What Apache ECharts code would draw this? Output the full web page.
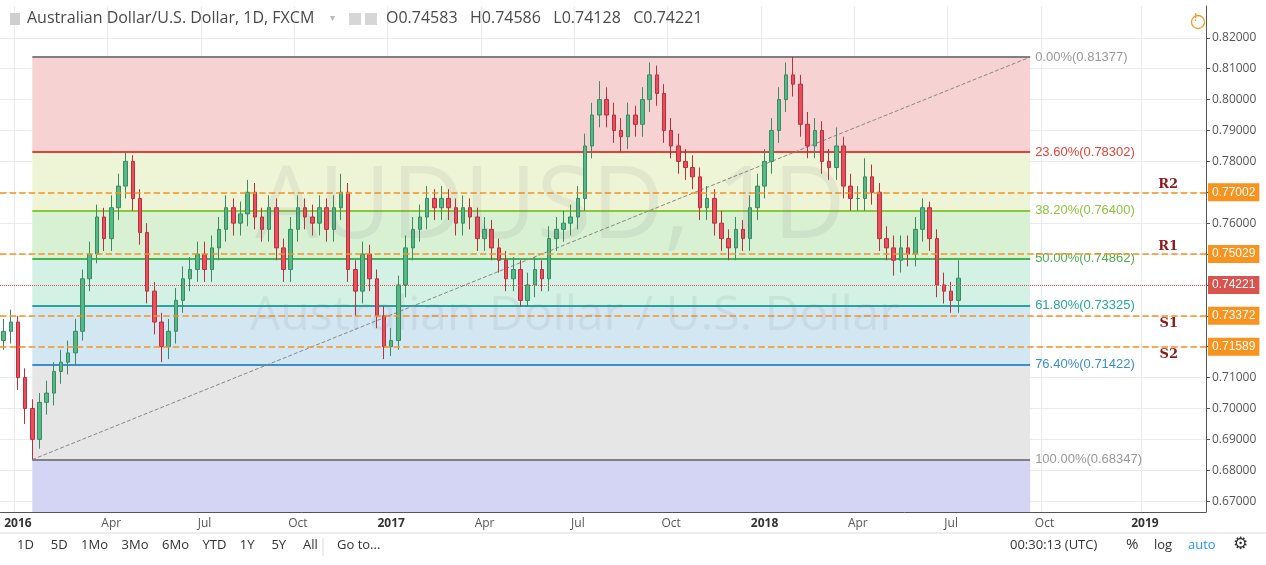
<!DOCTYPE html>
<html>
<head>
<meta charset="utf-8">
<script src="https://cdn.jsdelivr.net/npm/echarts@6/dist/echarts.min.js"></script>
<style>
  html, body { margin: 0; padding: 0; background: #fff; }
  #main { width: 1266px; height: 565px; }
</style>
</head>
<body>
<div id="main"></div>
<script>
// weekly candles [open, close, low, high], first week starts 2015-12-21
var candles = [
  [0.722,0.725,0.719,0.729],[0.725,0.728,0.721,0.732],[0.728,0.710,0.706,0.730],[0.710,0.700,0.695,0.713],
  [0.700,0.690,0.6835,0.703],[0.690,0.702,0.687,0.705],[0.702,0.705,0.698,0.709],[0.705,0.712,0.701,0.715],
  [0.712,0.715,0.708,0.719],[0.715,0.718,0.711,0.722],[0.718,0.725,0.714,0.729],[0.725,0.742,0.722,0.745],
  [0.742,0.750,0.738,0.754],[0.750,0.762,0.747,0.766],[0.762,0.755,0.751,0.765],[0.755,0.765,0.751,0.769],
  [0.765,0.772,0.761,0.776],[0.772,0.780,0.768,0.783],[0.780,0.768,0.764,0.782],[0.768,0.757,0.753,0.771],
  [0.757,0.738,0.734,0.760],[0.738,0.728,0.724,0.741],[0.728,0.720,0.715,0.731],[0.720,0.725,0.716,0.729],
  [0.725,0.735,0.721,0.739],[0.735,0.742,0.731,0.746],[0.742,0.745,0.738,0.749],[0.745,0.750,0.741,0.754],
  [0.750,0.745,0.741,0.754],[0.745,0.752,0.741,0.756],[0.752,0.758,0.748,0.762],[0.758,0.765,0.754,0.769],
  [0.765,0.760,0.756,0.768],[0.760,0.763,0.756,0.767],[0.763,0.770,0.759,0.774],[0.770,0.762,0.758,0.773],
  [0.762,0.758,0.754,0.765],[0.758,0.765,0.754,0.769],[0.765,0.752,0.748,0.768],[0.752,0.745,0.741,0.755],
  [0.745,0.758,0.741,0.762],[0.758,0.765,0.754,0.769],[0.765,0.762,0.758,0.768],[0.762,0.760,0.756,0.766],
  [0.760,0.765,0.756,0.769],[0.765,0.758,0.754,0.768],[0.758,0.765,0.754,0.769],[0.765,0.770,0.761,0.776],
  [0.770,0.745,0.741,0.773],[0.745,0.738,0.730,0.748],[0.738,0.750,0.734,0.754],[0.750,0.742,0.738,0.753],
  [0.742,0.730,0.726,0.745],[0.730,0.720,0.716,0.733],[0.720,0.722,0.717,0.726],[0.722,0.740,0.719,0.743],
  [0.740,0.752,0.736,0.756],[0.752,0.758,0.748,0.762],[0.758,0.762,0.754,0.766],[0.762,0.768,0.758,0.772],
  [0.768,0.765,0.761,0.771],[0.765,0.768,0.761,0.772],[0.768,0.765,0.761,0.771],[0.765,0.760,0.756,0.768],
  [0.760,0.765,0.756,0.769],[0.765,0.762,0.758,0.768],[0.762,0.755,0.751,0.765],[0.755,0.758,0.751,0.762],
  [0.758,0.752,0.748,0.761],[0.752,0.748,0.744,0.755],[0.748,0.742,0.738,0.751],[0.742,0.745,0.738,0.749],
  [0.745,0.735,0.733,0.748],[0.735,0.740,0.733,0.744],[0.740,0.745,0.736,0.749],[0.745,0.742,0.738,0.748],
  [0.742,0.755,0.738,0.759],[0.755,0.758,0.751,0.762],[0.758,0.760,0.754,0.764],[0.760,0.762,0.756,0.766],
  [0.762,0.768,0.758,0.772],[0.768,0.785,0.764,0.789],[0.785,0.795,0.781,0.799],[0.795,0.800,0.791,0.806],
  [0.800,0.795,0.791,0.804],[0.795,0.790,0.786,0.799],[0.790,0.788,0.783,0.794],[0.788,0.795,0.784,0.799],
  [0.795,0.792,0.788,0.798],[0.792,0.800,0.788,0.804],[0.800,0.808,0.796,0.812],[0.808,0.802,0.798,0.811],
  [0.802,0.790,0.786,0.805],[0.790,0.785,0.781,0.794],[0.785,0.780,0.776,0.789],[0.780,0.778,0.774,0.784],
  [0.778,0.775,0.771,0.782],[0.775,0.765,0.761,0.778],[0.765,0.768,0.761,0.772],[0.768,0.760,0.756,0.771],
  [0.760,0.755,0.751,0.764],[0.755,0.752,0.748,0.758],[0.752,0.758,0.748,0.762],[0.758,0.755,0.751,0.761],
  [0.755,0.765,0.751,0.769],[0.765,0.772,0.761,0.776],[0.772,0.780,0.768,0.784],[0.780,0.790,0.776,0.794],
  [0.790,0.800,0.786,0.804],[0.800,0.808,0.796,0.812],[0.808,0.805,0.801,0.8138],[0.805,0.792,0.788,0.808],
  [0.792,0.785,0.781,0.796],[0.785,0.790,0.781,0.794],[0.790,0.780,0.776,0.793],[0.780,0.778,0.774,0.784],
  [0.778,0.785,0.774,0.791],[0.785,0.772,0.768,0.788],[0.772,0.768,0.764,0.776],[0.768,0.768,0.764,0.772],
  [0.768,0.775,0.764,0.781],[0.775,0.770,0.766,0.779],[0.770,0.755,0.751,0.773],[0.755,0.752,0.748,0.759],
  [0.752,0.748,0.743,0.756],[0.748,0.752,0.744,0.756],[0.752,0.750,0.746,0.756],[0.750,0.758,0.746,0.762],
  [0.758,0.765,0.754,0.768],[0.765,0.755,0.751,0.767],[0.755,0.740,0.736,0.758],[0.740,0.738,0.734,0.744],
  [0.738,0.735,0.731,0.741],[0.735,0.7422,0.731,0.748]
];
var weekCount = 168;
var fibLevels = [0.81377, 0.78302, 0.76400, 0.74862, 0.73325, 0.71422, 0.68347];
var fibNames = ['0.00%', '23.60%', '38.20%', '50.00%', '61.80%', '76.40%', '100.00%'];
var fibLineColors = ['#808080', '#e0443a', '#8cc63f', '#4caf50', '#26a69a', '#3a8fcc', '#808080'];
var fibFills = ['#f6d2d2', '#eef5d6', '#d8f1d2', '#d3f1e5', '#d3e7f3', '#e6e6e6', '#d4d4f5'];
var pivotNames = ['R2', 'R1', 'S1', 'S2'];
var pivotValues = [0.77002, 0.75029, 0.73372, 0.71589];
var lastPrice = 0.74221;
var yTicks = [0.67, 0.68, 0.69, 0.70, 0.71, 0.72, 0.73, 0.74, 0.75, 0.76, 0.77, 0.78, 0.79, 0.80, 0.81, 0.82];
var fibStart = 4, fibEnd = 143;
var monthNames = ['Jan','Feb','Mar','Apr','May','Jun','Jul','Aug','Sep','Oct','Nov','Dec'];

var weeks = [];
var start = Date.UTC(2015, 11, 21);
for (var i = 0; i < weekCount; i++) {
  weeks.push(new Date(start + i * 7 * 86400000).toISOString().slice(0, 10));
}
function isQuarter(idx) {
  if (idx === 0) return false;
  var m = +weeks[idx].slice(5, 7) - 1, pm = +weeks[idx - 1].slice(5, 7) - 1;
  return m !== pm && m % 3 === 0;
}

var fibAreas = [];
for (var k = 0; k < fibLevels.length; k++) {
  var lo = k < fibLevels.length - 1 ? fibLevels[k + 1] : 0.6665;
  fibAreas.push([{ xAxis: weeks[fibStart], yAxis: fibLevels[k], itemStyle: { color: fibFills[k] } },
                 { xAxis: weeks[fibEnd], yAxis: lo }]);
}
var fibLines = fibLevels.map(function (v, k) {
  return [{ xAxis: weeks[fibStart], yAxis: v, lineStyle: { color: fibLineColors[k], width: 2, type: 'solid' },
            label: { show: true, position: 'end', formatter: fibNames[k] + '(' + v.toFixed(5) + ')',
                     color: fibLineColors[k] === '#808080' ? '#999' : fibLineColors[k], fontSize: 13 } },
          { xAxis: weeks[fibEnd], yAxis: v }];
});
var gridLines = yTicks.map(function (v) { return { yAxis: v }; });
var pivotLines = [];
pivotValues.forEach(function (v, k) {
  pivotLines.push({ yAxis: v, label: { show: true, position: 'end', formatter: v.toFixed(5), color: '#fff',
    backgroundColor: '#f7931e', padding: [3, 4], fontSize: 12, distance: 2 } });
  pivotLines.push({ yAxis: v, lineStyle: { color: 'rgba(0,0,0,0)', width: 1 }, label: { show: true,
    position: k < 2 ? 'insideEndTop' : 'insideEndBottom', formatter: pivotNames[k], color: '#8b1a1a',
    fontWeight: 'bold', fontFamily: 'DejaVu Serif', fontSize: 13, distance: [28, 1] } });
});

var chart = echarts.init(document.getElementById('main'));
chart.setOption({
  animation: false,
  backgroundColor: '#fff',
  grid: { left: 0, right: 60, top: 6, bottom: 53 },
  xAxis: {
    type: 'category', data: weeks, boundaryGap: true,
    axisLine: { lineStyle: { color: '#555' } },
    axisTick: { show: false },
    splitLine: { show: true, interval: function (i) { return isQuarter(i); }, lineStyle: { color: '#e9ebf0' } },
    axisLabel: {
      interval: function (i) { return isQuarter(i); },
      formatter: function (v) {
        var m = +v.slice(5, 7) - 1;
        return m === 0 ? '{y|' + v.slice(0, 4) + '}' : monthNames[m];
      },
      color: '#555', fontSize: 12, fontFamily: 'Open Sans', margin: 6,
      rich: { y: { fontWeight: 'bold', color: '#333', fontSize: 12, fontFamily: 'Open Sans' } }
    }
  },
  yAxis: {
    type: 'value', position: 'right', min: 0.6665, max: 0.8303, scale: true,
    axisLine: { show: true, lineStyle: { color: '#555' } },
    axisTick: { show: true, customValues: yTicks, length: 4, lineStyle: { color: '#555' } },
    splitLine: { show: false },
    axisLabel: { customValues: yTicks, formatter: function (v) { return v.toFixed(5); },
                 color: '#555', fontSize: 12, fontFamily: 'Open Sans', margin: 6 }
  },
  graphic: [
    { type: 'text', left: 255, top: 160, z: 50, silent: true, style: { text: 'AUDUSD, 1D', font: '100px "Open Sans"', fill: 'rgba(110,110,130,0.10)' } },
    { type: 'text', left: 250, top: 292, z: 50, silent: true, style: { text: 'Australian Dollar / U.S. Dollar', font: '48px "Open Sans"', fill: 'rgba(110,110,130,0.10)' } },
    { type: 'rect', left: 10, top: 13, z: 100, shape: { width: 10, height: 12 }, style: { fill: '#cfcfcf' } },
    { type: 'text', left: 27, top: 10, z: 100, style: { text: 'Australian Dollar/U.S. Dollar, 1D, FXCM', font: '16px "Open Sans"', fill: '#4a4a4a' } },
    { type: 'text', left: 330, top: 13, z: 100, style: { text: '▾', font: '10px sans-serif', fill: '#bbb' } },
    { type: 'rect', left: 349, top: 13, z: 100, shape: { width: 12, height: 12 }, style: { fill: '#d6d6d6' } },
    { type: 'rect', left: 365, top: 13, z: 100, shape: { width: 12, height: 12 }, style: { fill: '#d6d6d6' } },
    { type: 'text', left: 386, top: 10, z: 100, style: { text: 'O0.74583   H0.74586   L0.74128   C0.74221', font: '16px "Open Sans"', fill: '#4a4a4a' } },
    { type: 'circle', left: 1189, top: 13, z: 100, shape: { r: 6.5 }, style: { fill: 'none', stroke: '#f59a23', lineWidth: 1.3 } },
    { type: 'text', left: 1194, top: 13, z: 100, style: { text: '!', font: 'bold 10px sans-serif', fill: '#f59a23' } },
    { type: 'line', z: 100, shape: { x1: 0, y1: 533, x2: 1266, y2: 533 }, style: { stroke: '#dcdcdc' } },
    { type: 'text', left: 17, top: 539, z: 100, style: { text: '1D     5D    1Mo    3Mo    6Mo    YTD    1Y     5Y     All', font: '13px "Open Sans"', fill: '#333' } },
    { type: 'line', z: 100, shape: { x1: 323, y1: 538, x2: 323, y2: 556 }, style: { stroke: '#dcdcdc' } },
    { type: 'text', left: 337, top: 539, z: 100, style: { text: 'Go to...', font: '13px "Open Sans"', fill: '#333' } },
    { type: 'text', left: 1010, top: 539, z: 100, style: { text: '00:30:13 (UTC)', font: '13px "Open Sans"', fill: '#333' } },
    { type: 'text', left: 1126, top: 537, z: 100, style: { text: '%', font: '15px "Open Sans"', fill: '#333' } },
    { type: 'text', left: 1154, top: 539, z: 100, style: { text: 'log', font: '13px "Open Sans"', fill: '#333' } },
    { type: 'text', left: 1188, top: 539, z: 100, style: { text: 'auto', font: '13px "Open Sans"', fill: '#2196f3' } },
    { type: 'text', left: 1233, top: 536, z: 100, style: { text: '⚙', font: '17px "DejaVu Sans"', fill: '#333' } }
  ],
  series: [
    {
      type: 'candlestick', name: 'AUDUSD', data: candles, barWidth: 4, z: 5,
      itemStyle: { color: '#53b987', color0: '#eb4d5c', borderColor: '#3a8a62', borderColor0: '#b8303d', borderWidth: 1 },
      markArea: { silent: true, z: 1, data: fibAreas },
      markLine: {
        silent: true, symbol: 'none', z: 3,
        data: fibLines.concat([[
          { xAxis: weeks[fibStart], yAxis: fibLevels[6], lineStyle: { color: '#888', type: 'dashed', width: 1 }, label: { show: false } },
          { xAxis: weeks[fibEnd], yAxis: fibLevels[0] }
        ]])
      }
    },
    {
      type: 'line', data: [], z: 2,
      markLine: { silent: true, symbol: 'none', z: 0, label: { show: false },
                  lineStyle: { color: '#e9ebf0', type: 'solid', width: 1 }, data: gridLines }
    },
    {
      type: 'line', data: [], z: 6,
      markLine: {
        silent: true, symbol: 'none', z: 6,
        lineStyle: { color: '#f7931e', type: 'dashed', width: 1.6 },
        data: pivotLines.concat([{ yAxis: lastPrice, lineStyle: { color: '#d9534f', type: 'dotted', width: 1 },
          label: { show: true, position: 'end', formatter: lastPrice.toFixed(5), color: '#fff',
                   backgroundColor: '#d9534f', padding: [3, 4], fontSize: 12, distance: 2 } }])
      }
    }
  ]
});
</script>
</body>
</html>
